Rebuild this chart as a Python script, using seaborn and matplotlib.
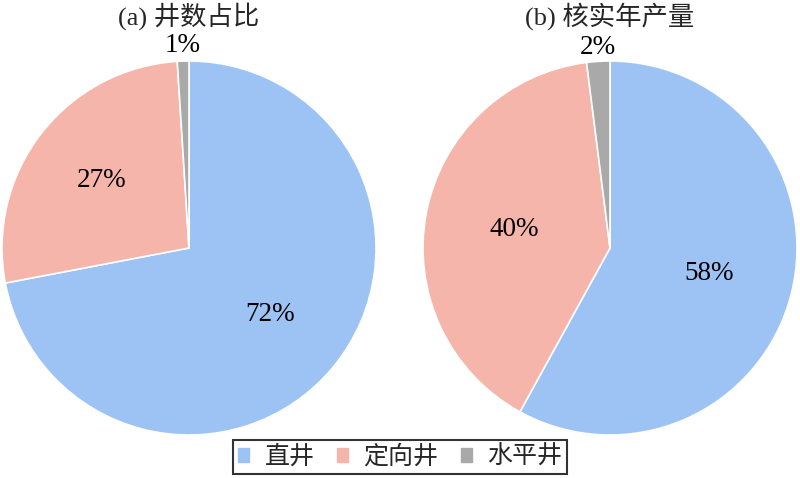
import numpy as np
import matplotlib
matplotlib.use("Agg")
import matplotlib.pyplot as plt
import seaborn as sns

# data
types = ["直井", "定向井", "水平井"]
well_share = [72, 27, 1]
output_share = [58, 40, 2]
titles = ["(a) 井数占比", "(b) 核实年产量"]

colors = ["#9DC3F5", "#F5B5AA", "#A9A9A9"]

sns.set_theme(style="white")
plt.rcParams["font.family"] = ["Liberation Serif", "Noto Sans CJK SC", "DejaVu Sans"]

fig = plt.figure(figsize=(8, 4.78), dpi=100)

# axes positions (pie centres ~ (189,248) and (610,248), radius ~187 px)
positions = [
    [2 / 800, 43 / 478, 374 / 800, 374 / 478],
    [423 / 800, 43 / 478, 374 / 800, 374 / 478],
]
label_dist = [
    [0.56, 0.59, 1.085],
    [0.55, 0.52, 1.075],
]

for i, vals in enumerate([well_share, output_share]):
    ax = fig.add_axes(positions[i])
    wedges, _ = ax.pie(vals, colors=colors, startangle=90, counterclock=False,
                       wedgeprops=dict(edgecolor="white", linewidth=1.2))
    for w, v, d in zip(wedges, vals, label_dist[i]):
        ang = np.deg2rad((w.theta1 + w.theta2) / 2)
        ax.text(d * np.cos(ang), d * np.sin(ang), f"{v}%", ha="center", va="center",
                fontsize=19.5, color="black")
    ax.set_xlim(-1, 1)
    ax.set_ylim(-1, 1)
    ax.set_aspect("equal")
    ax.axis("off")
    cx = (positions[i][0] + positions[i][2] / 2)
    fig.text(cx, 1 - 16 / 478, titles[i], ha="center", va="center", fontsize=19)

handles = [plt.Rectangle((0, 0), 1, 1, color=c) for c in colors]
leg = fig.legend(handles, types, loc="center", bbox_to_anchor=(0.5, 1 - 457 / 478),
                 ncol=3, fontsize=18, frameon=True, fancybox=False,
                 handlelength=0.45, handleheight=0.45, handletextpad=0.6,
                 columnspacing=0.9, borderpad=0.2, borderaxespad=0)
leg.get_frame().set_edgecolor("black")
leg.get_frame().set_linewidth(1.5)

fig.savefig("out.png", dpi=100, facecolor="white")
